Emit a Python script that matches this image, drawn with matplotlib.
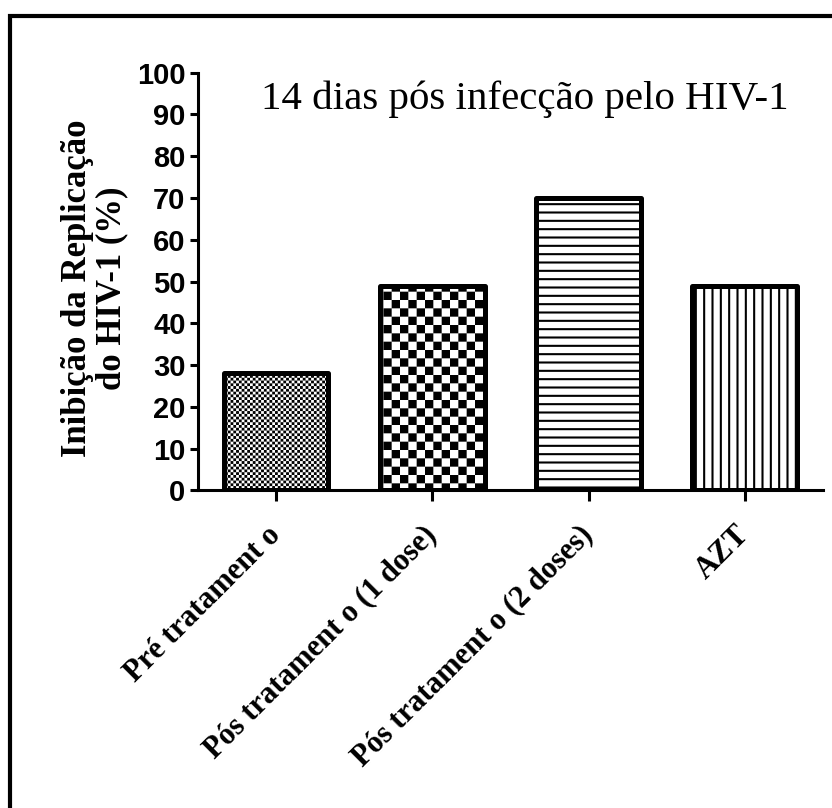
import warnings
import numpy as np
import matplotlib
matplotlib.use("Agg")
import matplotlib.pyplot as plt
import matplotlib.hatch as mhatch
from matplotlib.path import Path
from matplotlib.lines import Line2D

warnings.filterwarnings("ignore")

groups = ["Pré tratament o", "Pós tratament o (1 dose)",
          "Pós tratament o (2 doses)", "AZT"]
inhibition = [28, 49, 70, 49]
patterns = ["###", "#", "--", "||"]
yticks = list(range(0, 101, 10))

plt.rcParams["hatch.linewidth"] = 1.5


class CheckerHatch(mhatch.HatchPatternBase):
    """Filled checkerboard, one '#' = density cells per inch."""

    def __init__(self, hatch, density):
        self.cells = 2 * hatch.count("#") * density
        self.num_vertices = (self.cells * self.cells // 2) * 5

    def set_vertices_and_codes(self, vertices, codes):
        step = 1.0 / self.cells
        # squares are stroked as well as filled, so pull them in by the pen
        inset = plt.rcParams["hatch.linewidth"] / 72.0 / 2
        sq = np.array([[inset, inset], [step - inset, inset],
                       [step - inset, step - inset], [inset, step - inset],
                       [inset, inset]])
        parts = [sq + [c * step, r * step]
                 for r in range(self.cells) for c in range(self.cells)
                 if (r + c) % 2 == 0]
        vertices[:] = np.concatenate(parts)
        codes[:] = np.tile([Path.MOVETO, Path.LINETO, Path.LINETO,
                            Path.LINETO, Path.CLOSEPOLY], len(parts))


mhatch._hatch_types.append(CheckerHatch)

fig = plt.figure(figsize=(8.32, 8.08), dpi=100)
ax = fig.add_axes([0.238, 0.393, 0.751, 0.517])

x = np.arange(len(groups))
bars = ax.bar(x, inhibition, width=0.67, color="white", edgecolor="black",
              linewidth=3.6, joinstyle="round")
for bar, pat in zip(bars, patterns):
    bar.set_hatch(pat)

ax.set_xlim(-0.5, 3.5)
ax.set_ylim(0, 100)
ax.set_yticks(yticks)
ax.set_xticks(x)
ax.set_xticklabels(groups, rotation=45, ha="right", va="center",
                   rotation_mode="anchor", family="Liberation Serif",
                   fontweight="bold", fontsize=22)
for lab in ax.get_yticklabels():
    lab.set_family("Liberation Sans")
    lab.set_fontweight("bold")
    lab.set_fontsize(21)

for side in ("top", "right"):
    ax.spines[side].set_visible(False)
for side in ("left", "bottom"):
    ax.spines[side].set_linewidth(2.2)
ax.tick_params(axis="y", length=6, width=2.2, pad=3)
ax.tick_params(axis="x", length=8, width=2.2, pad=21)

ax.set_ylabel("Inibição da Replicação\ndo HIV-1 (%)", family="Liberation Serif",
              fontweight="bold", fontsize=25, linespacing=1.05, labelpad=6)
ax.yaxis.label.set_y(0.485)
ax.text(0.523, 0.937, "14 dias pós infecção pelo HIV-1", transform=ax.transAxes,
        ha="center", va="center", family="Liberation Serif", fontsize=29.5)

# frame around the figure (only left and top edges fall inside the canvas)
fig.add_artist(Line2D([10 / 832, 10 / 832, 1.0], [0.0, 1 - 16 / 808, 1 - 16 / 808],
                      transform=fig.transFigure, color="black", linewidth=3,
                      solid_joinstyle="miter"))

fig.savefig("out.png", dpi=100)
